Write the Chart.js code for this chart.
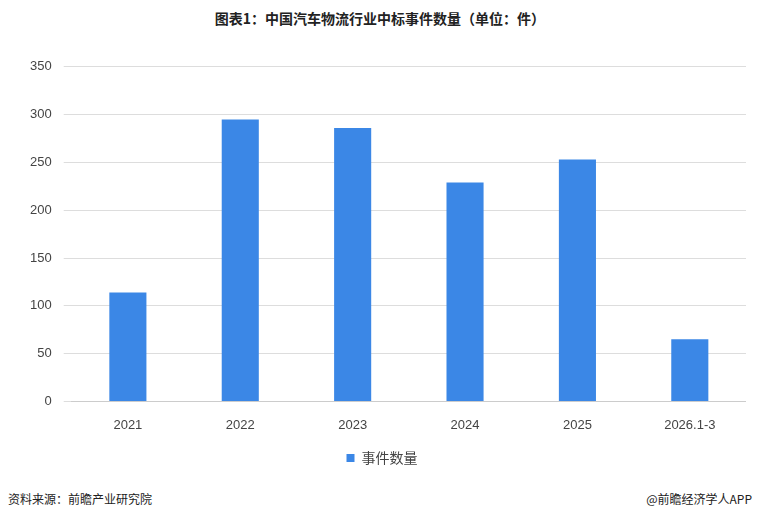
<!DOCTYPE html>
<html><head><meta charset="utf-8">
<script src="https://cdn.jsdelivr.net/npm/chart.js@4/dist/chart.umd.min.js"></script>
<style>
body{margin:0;background:#fff;font-family:"Noto Sans CJK SC","Noto Sans",sans-serif;}
#wrap{position:relative;width:760px;height:521px;}
#title{position:absolute;top:8px;left:0;width:760px;text-align:center;font-size:14px;font-weight:bold;color:#222;}
#box{position:absolute;left:18px;top:47px;width:728px;height:428px;}
.foot{position:absolute;top:490px;font-size:12px;color:#222;}
</style></head><body>
<div id="wrap">
<div id="title">图表1：中国汽车物流行业中标事件数量（单位：件）</div>
<div id="box"><canvas id="c"></canvas></div>
<div class="foot" style="left:8px">资料来源：前瞻产业研究院</div>
<div class="foot" style="right:8px">@前瞻经济学人APP</div>
</div>
<script>
const labels = ["2021","2022","2023","2024","2025","2026.1-3"];
const counts = [114,295,286,229,253,65];
const yTicks = [0,50,100,150,200,250,300,350];

new Chart(document.getElementById("c"), {
  type: "bar",
  data: { labels, datasets: [{ label: "事件数量", data: counts, backgroundColor: "#3b87e6", barPercentage: 0.6, categoryPercentage: 0.55 }] },
  options: {
    responsive: true, maintainAspectRatio: false, animation: false,
    plugins: {
      legend: { position: "bottom", labels: { boxWidth: 8, boxHeight: 8, color: "#444", font: { size: 14, family: "Noto Sans CJK SC" } } },
      tooltip: { enabled: false }
    },
    scales: {
      x: { grid: { display: false }, border: { color: "#ccc" }, ticks: { color: "#444", font: { size: 13 }, padding: 8 } },
      y: { min: 0, max: 350, afterBuildTicks: a => { a.ticks = yTicks.map(v => ({ value: v })) },
           grid: { color: "#ddd" }, border: { display: false }, ticks: { color: "#444", font: { size: 13 }, padding: 12 } }
    }
  }
});
</script>
</body></html>
